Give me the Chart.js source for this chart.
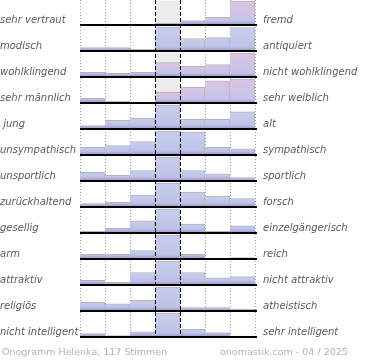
<!DOCTYPE html>
<html>
<head>
<meta charset="utf-8">
<script src="https://cdn.jsdelivr.net/npm/chart.js@4/dist/chart.umd.min.js"></script>
<style>
  html, body { margin: 0; padding: 0; background: #fff; }
  #wrap { position: relative; width: 370px; height: 360px; }
  canvas { display: block; }
  .foot { position: absolute; top: 346px; font: 9.5px/12px "DejaVu Sans", sans-serif; color: #b2b2b2; white-space: nowrap; }
</style>
</head>
<body>
<div id="wrap">
  <canvas id="c" width="370" height="360"></canvas>
  <div class="foot" style="left:2px">Onogramm Helenka, 117 Stimmen</div>
  <div class="foot" style="left:220px">onomastik.com - 04 / 2025</div>
</div>
<script>
// Scale columns (7 steps of the semantic differential)
const columns = ["1", "2", "3", "4", "5", "6", "7"];

// Left and right poles of each row
const leftLabels = ["sehr vertraut", "modisch", "wohlklingend", "sehr männlich", " jung", "unsympathisch",
  "unsportlich", "zurückhaltend", "gesellig", "arm", "attraktiv", "religiös", "nicht intelligent"];
const rightLabels = ["fremd", "antiquiert", "nicht wohlklingend", "sehr weiblich", "alt", "sympathisch",
  "sportlich", "forsch", "einzelgängerisch", "reich", "nicht attraktiv", "atheistisch", "sehr intelligent"];

// Votes per column, in percent of the row's largest column
const vertraut     = [0, 0, 0, 7, 18, 32, 100];
const modisch      = [14, 14, 7, 100, 52, 56, 98];
const wohlklingend = [19, 15, 19, 60, 45, 52, 100];
const maennlich    = [19, 8, 2, 44, 65, 92, 100];
const jung         = [14, 36, 45, 100, 40, 40, 72];
const unsympath    = [32, 39, 56, 100, 95, 32, 26];
const unsportlich  = [36, 24, 43, 100, 43, 30, 14];
const zurueck      = [14, 19, 50, 100, 62, 45, 35];
const gesellig     = [8, 19, 51, 100, 37, 8, 30];
const arm          = [19, 19, 35, 100, 19, 0, 6];
const attraktiv    = [19, 11, 52, 100, 52, 30, 35];
const religioes    = [36, 30, 44, 100, 14, 14, 8];
const nichtIntel   = [14, 6, 22, 100, 32, 18, 4];

const rows = [vertraut, modisch, wohlklingend, maennlich, jung, unsympath, unsportlich,
  zurueck, gesellig, arm, attraktiv, religioes, nichtIntel];

const N = rows.length;
const MID = 3;
const H = 24 / 26;           // bar height share of one row band
const Y_OFF = 1 / 26;

function baseOf(i) { return (N - 1 - i); }

function barFill(ctx, pink) {
  const chart = ctx.chart;
  const raw = ctx.raw;
  if (!raw || !chart.chartArea) return '#c4cbea';
  const y = chart.scales.yl;
  const t = y.getPixelForValue(raw[1]), b = y.getPixelForValue(raw[0]);
  const h = Math.max(b - t, 1);
  const g = chart.ctx.createLinearGradient(0, t, 0, b);
  const band = Math.min(4 / h, 0.9);
  g.addColorStop(0, pink ? '#dec3e4' : '#c7ceed');
  g.addColorStop(Math.max(0, 1 - band), pink ? '#c3c5e8' : '#bdc3e7');
  g.addColorStop(1, '#9d8ecb');
  return g;
}

const datasets = [];
rows.forEach((vals, i) => {
  const b = baseOf(i);
  datasets.push({
    data: columns.map((_, k) => k === MID ? [b, b + H] : null),
    backgroundColor: '#ececec',
    borderWidth: 0,
    order: 2,
    grouped: false,
    yAxisID: 'yl'
  });
});
rows.forEach((vals, i) => {
  const b = baseOf(i);
  const maxIdx = vals.indexOf(Math.max(...vals));
  const pink = maxIdx !== MID;
  datasets.push({
    data: vals.map(v => v > 0 ? [b, b + v / 100 * H] : null),
    backgroundColor: (ctx) => barFill(ctx, pink),
    borderColor: '#b3b3b8',
    borderWidth: { top: 1, right: 1, left: 0, bottom: 0 },
    borderSkipped: false,
    order: 1,
    grouped: false,
    yAxisID: 'yl'
  });
});

const linesPlugin = {
  id: 'lines',
  beforeDatasetsDraw(chart) {
    const { ctx, chartArea, scales } = chart;
    const x = scales.x;
    const half = (x.getPixelForValue(1) - x.getPixelForValue(0)) / 2;
    ctx.save();
    ctx.strokeStyle = '#9a9a9a';
    ctx.lineWidth = 1;
    ctx.setLineDash([1, 2]);
    for (let k = 0; k <= columns.length; k++) {
      if (k === MID || k === MID + 1) continue;
      const px = Math.round(x.getPixelForValue(0) - half + 2 * half * k) + 0.5;
      ctx.beginPath();
      ctx.moveTo(px, chartArea.top);
      ctx.lineTo(px, chartArea.bottom);
      ctx.stroke();
    }
    ctx.restore();
  },
  afterDatasetsDraw(chart) {
    const { ctx, chartArea, scales } = chart;
    const x = scales.x, y = scales.yl;
    const half = (x.getPixelForValue(1) - x.getPixelForValue(0)) / 2;
    ctx.save();
    ctx.strokeStyle = '#000';
    ctx.lineWidth = 1;
    ctx.setLineDash([4, 2]);
    [MID, MID + 1].forEach(k => {
      const px = Math.round(x.getPixelForValue(0) - half + 2 * half * k) + 0.5;
      ctx.beginPath();
      ctx.moveTo(px, chartArea.top);
      ctx.lineTo(px, chartArea.bottom);
      ctx.stroke();
    });
    ctx.setLineDash([]);
    ctx.lineWidth = 2;
    rows.forEach((_, i) => {
      const py = Math.round(y.getPixelForValue(baseOf(i)));
      ctx.beginPath();
      ctx.moveTo(chartArea.left, py);
      ctx.lineTo(chartArea.right + 2, py);
      ctx.stroke();
    });
    ctx.restore();
  }
};

const tickFont = { family: 'DejaVu Sans', size: 10, style: 'italic' };
function labelTicks(scale) {
  scale.ticks = rows.map((_, i) => ({ value: baseOf(i) + 5 / 26 }));
}

new Chart(document.getElementById('c'), {
  type: 'bar',
  data: { labels: columns, datasets },
  plugins: [linesPlugin],
  options: {
    responsive: false,
    animation: false,
    events: [],
    layout: { padding: { top: 0, bottom: 22, left: 0, right: 0 } },
    datasets: { bar: { barPercentage: 1, categoryPercentage: 1 } },
    plugins: { legend: { display: false }, tooltip: { enabled: false } },
    scales: {
      x: { display: false, offset: true },
      yl: {
        position: 'left',
        min: -Y_OFF, max: N - Y_OFF,
        grid: { display: false, drawTicks: false },
        border: { display: false },
        afterBuildTicks: labelTicks,
        afterFit(s) { s.width = 80; s.paddingTop = 0; s.paddingBottom = 0; },
        ticks: {
          autoSkip: false, crossAlign: 'far', padding: 0,
          font: tickFont, color: '#5a5a5a',
          callback: (v, idx) => leftLabels[idx]
        }
      },
      yr: {
        position: 'right',
        min: -Y_OFF, max: N - Y_OFF,
        grid: { display: false, drawTicks: false },
        border: { display: false },
        afterBuildTicks: labelTicks,
        afterFit(s) { s.width = 115; s.paddingTop = 0; s.paddingBottom = 0; },
        ticks: {
          autoSkip: false, padding: 8,
          font: tickFont, color: '#5a5a5a',
          callback: (v, idx) => rightLabels[idx]
        }
      }
    }
  }
});
</script>
</body>
</html>
